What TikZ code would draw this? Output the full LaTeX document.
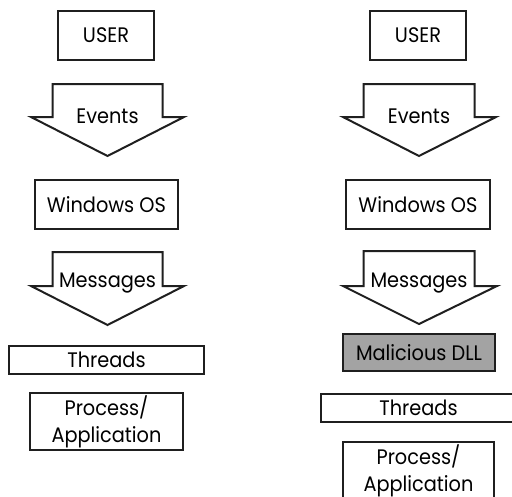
\documentclass[tikz,border=0pt]{standalone}
\usepackage{fontspec}
\setmainfont{Poppins}[FakeStretch=0.92]
\begin{document}
\begin{tikzpicture}[x=1pt,y=-1pt,line width=2pt,line join=miter,
  box/.style={draw=black!88, rectangle, inner sep=0pt, align=center, font=\fontsize{21}{27}\selectfont},
  flow/.style={draw=black!88, fill=white},
  flowlabel/.style={inner sep=0pt, font=\fontsize{21}{27}\selectfont}]
\path[use as bounding box, clip] (0,0) rectangle (512,496);
% left column
\node[box, minimum width=96pt, minimum height=49pt] (luser) at (106,35.5) {USER};
\draw[flow] (52.5,84) -- (162.5,84) -- (162.5,117) -- (184,117) -- (107.5,156) -- (31,117) -- (52.5,117) -- cycle;
\node[flowlabel] (levents) at (107.5,116) {Events};
\node[box, minimum width=143pt, minimum height=49pt] (los) at (106.5,204.5) {Windows OS};
\draw[flow] (52.5,252) -- (162.5,252) -- (162.5,286) -- (184,286) -- (107.5,325) -- (31,286) -- (52.5,286) -- cycle;
\node[flowlabel] (lmessages) at (107.5,283) {Messages};
\node[box, minimum width=195pt, minimum height=28pt] (lthreads) at (106.5,360) {Threads};
\node[box, minimum width=153pt, minimum height=57pt] (lprocess) at (106.5,421.5) {Process/\\Application};
% right column
\node[box, minimum width=96pt, minimum height=49pt] (ruser) at (418,35.5) {USER};
\draw[flow] (363.5,84) -- (474.5,84) -- (474.5,117) -- (496,117) -- (419,156) -- (343,117) -- (363.5,117) -- cycle;
\node[flowlabel] (revents) at (419,116) {Events};
\node[box, minimum width=144pt, minimum height=49pt] (ros) at (418,204.5) {Windows OS};
\draw[flow] (363.5,251) -- (474.5,251) -- (474.5,286) -- (497,286) -- (419,324) -- (343,286) -- (363.5,286) -- cycle;
\node[flowlabel] (rmessages) at (419,283) {Messages};
\node[box, fill=black!36, minimum width=152pt, minimum height=37pt] (rdll) at (419,352.5) {Malicious DLL};
\node[box, minimum width=195pt, minimum height=28pt] (rthreads) at (418.5,408) {Threads};
\node[box, minimum width=151pt, minimum height=57pt] (rprocess) at (418.5,470.5) {Process/\\Application};
\end{tikzpicture}
\end{document}
